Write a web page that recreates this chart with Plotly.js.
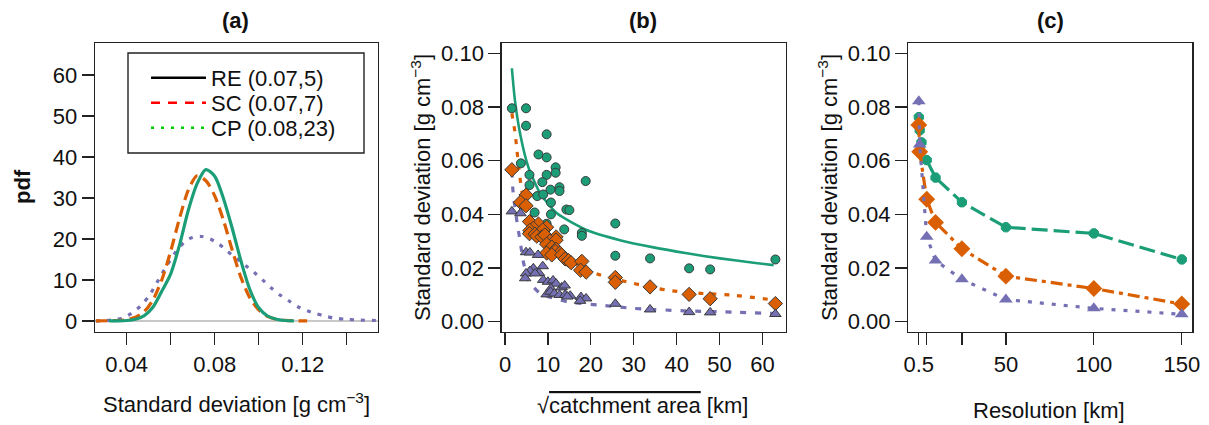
<!DOCTYPE html>
<html>
<head>
<meta charset="utf-8">
<script src="https://cdn.plot.ly/plotly-3.0.1.min.js"></script>
<style>
  html, body { margin: 0; padding: 0; background: #ffffff; }
  #chart { width: 1209px; height: 425px; }
</style>
</head>
<body>
<div id="chart"></div>
<script>
// ---------- Panel (a): pdf curves ----------
const aRE_x = [0.032,0.036,0.040,0.044,0.048,0.052,0.056,0.060,0.064,0.068,0.072,0.076,0.080,0.084,0.088,0.092,0.096,0.100,0.104,0.108,0.112,0.116];
const aRE_y = [0,0.02,0.1,0.4,1.3,3.4,7.3,11.5,18.5,27.0,33.5,36.9,35.3,29.8,22.5,14.5,7.6,3.2,1.2,0.4,0.1,0];
const aSC_x = [0.026,0.032,0.036,0.040,0.044,0.048,0.052,0.056,0.060,0.064,0.068,0.072,0.076,0.080,0.084,0.088,0.092,0.096,0.100,0.104,0.108,0.112,0.116,0.122];
const aSC_y = [0,0.05,0.1,0.3,0.9,2.3,5.2,10.1,17.0,25.0,31.9,35.4,34.2,30.5,24.5,17.2,10.5,5.6,2.7,1.1,0.4,0.15,0.05,0];
const aCP_x = [0.026,0.030,0.034,0.038,0.042,0.046,0.050,0.054,0.058,0.062,0.066,0.070,0.074,0.078,0.082,0.086,0.090,0.094,0.098,0.102,0.106,0.110,0.114,0.118,0.122,0.126,0.130,0.134,0.140,0.146,0.154];
const aCP_y = [0,0.05,0.3,0.7,1.8,3.5,6.0,9.6,13.3,16.6,19.1,20.4,20.6,20.0,18.7,16.9,15.2,13.5,11.8,9.9,7.9,6.2,4.8,3.4,2.5,1.8,1.2,0.7,0.4,0.2,0.1];
const legendNames = ["RE (0.07,5)", "SC (0.07,7)", "CP (0.08,23)"];
const aXlabelled = [0.04,0.08,0.12];
const aXminor = [0.06,0.10,0.14];
const aYticks = [0,10,20,30,40,50,60];

// ---------- Panel (b): sqrt catchment area vs SD ----------
const bRE_x = [1.6,4.9,4.9,9.7,7.8,9.7,3.7,11.8,11.8,5.7,9.7,5.7,18.8,8.7,12.7,10.6,12.7,7.5,8.9,10.7,14.3,15.0,6.9,10.7,9.7,25.7,13.8,17.9,17.9,25.7,33.8,42.9,47.8,63.0];
const bRE_y = [0.0795,0.0795,0.0730,0.0698,0.0623,0.0612,0.0590,0.0575,0.0555,0.0547,0.0547,0.0509,0.0524,0.0520,0.0501,0.0492,0.0487,0.0468,0.0474,0.0444,0.0418,0.0416,0.0407,0.0400,0.0365,0.0366,0.0344,0.0331,0.0320,0.0246,0.0236,0.0199,0.0195,0.0232];
const bSC_x = [1.6,4.9,3.6,4.9,5.7,7.8,6.6,9.7,8.8,5.8,5.7,7.0,7.4,8.6,9.3,11.9,10.5,11.9,9.7,10.9,11.9,11.7,9.7,12.8,10.9,13.2,14.0,14.8,15.4,17.9,17.6,18.9,25.7,25.7,33.8,42.9,47.8,63.0];
const bSC_y = [0.0566,0.0472,0.0445,0.0432,0.0373,0.0364,0.0348,0.0352,0.0342,0.0340,0.0328,0.0326,0.0319,0.0316,0.0323,0.0316,0.0300,0.0304,0.0289,0.0278,0.0270,0.0262,0.0256,0.0256,0.0249,0.0249,0.0234,0.0228,0.0220,0.0225,0.0192,0.0185,0.0165,0.0147,0.0130,0.0102,0.0086,0.0068];
const bCP_x = [1.6,3.6,4.9,5.8,7.7,6.6,5.8,8.8,4.9,4.7,7.9,7.0,8.9,10.0,11.2,11.9,13.2,13.9,10.7,9.7,10.6,11.5,12.7,14.0,15.2,14.5,17.7,18.9,17.5,25.7,33.8,42.9,47.8,63.0];
const bCP_y = [0.0411,0.0404,0.0259,0.0258,0.0249,0.0199,0.0189,0.0207,0.0180,0.0162,0.0182,0.0180,0.0156,0.0149,0.0154,0.0142,0.0128,0.0135,0.0124,0.0102,0.0112,0.0105,0.0100,0.0100,0.0097,0.0094,0.0092,0.0087,0.0078,0.0067,0.0046,0.0036,0.0035,0.0029];
// fitted curves
const bFitRE_x = [1.6,2.3,3.5,5.4,8.2,12.1,19.0,26.8,34.6,42.4,50.1,57.9,62.6];
const bFitRE_y = [0.0944,0.0826,0.0702,0.0578,0.0478,0.0404,0.0342,0.0304,0.0277,0.0255,0.0236,0.0220,0.0211];
const bFitSC_x = [1.6,2.3,2.7,3.1,3.9,5.1,8.2,12.8,17.5,22.2,29.9,37.7,45.5,53.2,62.6];
const bFitSC_y = [0.0776,0.0708,0.0652,0.0590,0.0490,0.0416,0.0329,0.0255,0.0205,0.0174,0.0143,0.0118,0.0106,0.0099,0.0081];
const bFitCP_x = [1.6,1.9,2.9,3.5,4.2,5.4,8.2,14.4,22.2,29.9,41.6,53.2,62.6];
const bFitCP_y = [0.0560,0.0480,0.0360,0.0304,0.0230,0.0155,0.0106,0.0075,0.0062,0.0050,0.0041,0.0036,0.0031];
const bXticks = [0,10,20,30,40,50,60];
const sdTicks = [0,0.02,0.04,0.06,0.08,0.10];
const sdTicktext = ["0.00","0.02","0.04","0.06","0.08","0.10"];

// ---------- Panel (c): resolution vs SD ----------
const cRE_x = [0.5,1,2,5,10,25,50,100,150];
const cRE_y = [0.0762,0.0713,0.0668,0.0602,0.0537,0.0445,0.0352,0.0329,0.0232];
const cSC_x = [0.5,1,5,10,25,50,100,150];
const cSC_y = [0.0733,0.0633,0.0456,0.0370,0.0272,0.0170,0.0124,0.0066];
const cCP_x = [0.5,1,5,10,25,50,100,150];
const cCP_y = [0.0821,0.0660,0.0317,0.0228,0.0158,0.0083,0.0050,0.0028];
const cXlabelled = [0.5,50,100,150];
const cXminor = [5,25];

// ---------- colours ----------
const GREEN = "#1b9e77", ORANGE = "#d95f02", PURPLE = "#7570b3";
const EDGE = "#3a3a3a";
const FONT = "Arial, 'Liberation Sans', sans-serif";
const FS = 22;

const traces = [
  // panel a
  {x: aCP_x, y: aCP_y, xaxis: "x", yaxis: "y", mode: "lines", showlegend: false,
   line: {color: PURPLE, width: 3.2, dash: "4px,7px", shape: "spline", smoothing: 0.8}},
  {x: aSC_x, y: aSC_y, xaxis: "x", yaxis: "y", mode: "lines", showlegend: false,
   line: {color: ORANGE, width: 3.2, dash: "11px,6px", shape: "spline", smoothing: 0.8}},
  {x: aRE_x, y: aRE_y, xaxis: "x", yaxis: "y", mode: "lines", showlegend: false,
   line: {color: GREEN, width: 3.2, shape: "spline", smoothing: 0.8}},
  // legend-only entries (legend colours differ from curves, as in the original)
  {x: [null], y: [null], xaxis: "x", yaxis: "y", mode: "lines", name: legendNames[0], legend: "legend",
   line: {color: "#000000", width: 2.6}},
  {x: [null], y: [null], xaxis: "x", yaxis: "y", mode: "lines", name: legendNames[1], legend: "legend2",
   line: {color: "#ff0000", width: 2.6, dash: "9px,8px"}},
  {x: [null], y: [null], xaxis: "x", yaxis: "y", mode: "lines", name: legendNames[2], legend: "legend3",
   line: {color: "#00cd00", width: 2.6, dash: "3px,7px"}},
  // panel b fits
  {x: bFitCP_x, y: bFitCP_y, xaxis: "x2", yaxis: "y2", mode: "lines", showlegend: false,
   line: {color: PURPLE, width: 3.2, dash: "6px,9px", shape: "spline", smoothing: 0.6}},
  {x: bFitSC_x, y: bFitSC_y, xaxis: "x2", yaxis: "y2", mode: "lines", showlegend: false,
   line: {color: ORANGE, width: 3.2, dash: "5px,8px", shape: "spline", smoothing: 0.6}},
  {x: bFitRE_x, y: bFitRE_y, xaxis: "x2", yaxis: "y2", mode: "lines", showlegend: false,
   line: {color: GREEN, width: 2.6, shape: "spline", smoothing: 0.6}},
  // panel b points
  {x: bRE_x, y: bRE_y, xaxis: "x2", yaxis: "y2", mode: "markers", showlegend: false,
   marker: {symbol: "circle", size: 9, color: GREEN, line: {color: EDGE, width: 1}}},
  {x: bSC_x, y: bSC_y, xaxis: "x2", yaxis: "y2", mode: "markers", showlegend: false,
   marker: {symbol: "diamond", size: 11, color: ORANGE, line: {color: EDGE, width: 1}}},
  {x: bCP_x, y: bCP_y, xaxis: "x2", yaxis: "y2", mode: "markers", showlegend: false,
   marker: {symbol: "triangle-up", size: 10, color: PURPLE, line: {color: EDGE, width: 1}}},
  // panel c
  {x: cRE_x, y: cRE_y, xaxis: "x3", yaxis: "y3", mode: "lines+markers", showlegend: false,
   line: {color: GREEN, width: 3.2, dash: "16px,6px"},
   marker: {symbol: "octagon", size: 10, color: GREEN, line: {color: GREEN, width: 1}}},
  {x: cSC_x, y: cSC_y, xaxis: "x3", yaxis: "y3", mode: "lines+markers", showlegend: false,
   line: {color: ORANGE, width: 3.2, dash: "12px,5px,4px,5px"},
   marker: {symbol: "diamond", size: 13, color: ORANGE}},
  {x: cCP_x, y: cCP_y, xaxis: "x3", yaxis: "y3", mode: "lines+markers", showlegend: false,
   line: {color: PURPLE, width: 3.2, dash: "4px,8px"},
   marker: {symbol: "triangle-up", size: 12, color: PURPLE}}
];

function axisBase(extra) {
  return Object.assign({
    showgrid: false, zeroline: false, showline: true, mirror: true,
    linecolor: "#222222", linewidth: 1.4,
    ticks: "outside", ticklen: 12, tickwidth: 1.3, tickcolor: "#222222",
    tickmode: "array", tickfont: {family: FONT, size: FS, color: "#111111"},
    automargin: false, fixedrange: true
  }, extra);
}
function minorTicks(vals) {
  return {tickmode: "array", tickvals: vals, ticks: "outside", ticklen: 12,
          tickwidth: 1.3, tickcolor: "#222222", showgrid: false};
}

const W = 1209, H = 425;
const px = v => v / W;
const py = v => 1 - v / H;
const yDom = [py(332), py(43)];

function legendAt(rowY) {
  return {
    x: px(146), y: py(rowY), xanchor: "left", yanchor: "middle",
    bgcolor: "rgba(0,0,0,0)", borderwidth: 0,
    font: {family: FONT, size: FS, color: "#111111"},
    itemwidth: 55
  };
}

const layout = {
  width: W, height: H,
  margin: {l: 0, r: 0, t: 0, b: 0},
  paper_bgcolor: "#ffffff", plot_bgcolor: "#ffffff",
  font: {family: FONT, size: FS, color: "#111111"},
  showlegend: true,
  legend: legendAt(78),
  legend2: legendAt(103),
  legend3: legendAt(128),
  xaxis: axisBase({domain: [px(95), px(378)], range: [0.0256, 0.1542], anchor: "y",
    tickvals: aXlabelled, ticktext: aXlabelled.map(v => v.toFixed(2)), minor: minorTicks(aXminor)}),
  yaxis: axisBase({domain: yDom, range: [-2.7, 67.8], anchor: "x",
    tickvals: aYticks, zeroline: true, zerolinecolor: "#c8c8c8", zerolinewidth: 1.2}),
  xaxis2: axisBase({domain: [px(501.7), px(785.7)], range: [-0.77, 65.4], anchor: "y2",
    tickvals: bXticks}),
  yaxis2: axisBase({domain: yDom, range: [-0.0038, 0.1038], anchor: "x2",
    tickvals: sdTicks, ticktext: sdTicktext}),
  xaxis3: axisBase({domain: [px(908.3), px(1192.3)], range: [-5.48, 155.98], anchor: "y3",
    tickvals: cXlabelled, ticktext: cXlabelled.map(String), minor: minorTicks(cXminor)}),
  yaxis3: axisBase({domain: yDom, range: [-0.0038, 0.1038], anchor: "x3",
    tickvals: sdTicks, ticktext: sdTicktext}),
  shapes: [
    {type: "rect", xref: "paper", yref: "paper", x0: px(128), x1: px(364), y0: py(153), y1: py(53),
     line: {color: "#222222", width: 1.4}, fillcolor: "rgba(0,0,0,0)"}
  ],
  annotations: [
    {text: "<b>(a)</b>", x: px(235), y: py(20)},
    {text: "<b>(b)</b>", x: px(643), y: py(20)},
    {text: "<b>(c)</b>", x: px(1050), y: py(20)},
    {text: "Standard deviation [g cm<sup>−3</sup>]", x: px(236), y: py(403)},
    {text: "√<span style=\"text-decoration:overline\">catchment area</span> [km]", x: px(642), y: py(405)},
    {text: "Resolution [km]", x: px(1049), y: py(410)},
    {text: "<b>pdf</b>", x: px(23), y: py(187), textangle: -90},
    {text: "Standard deviation [g cm<sup>−3</sup>]", x: px(421), y: py(188), textangle: -90},
    {text: "Standard deviation [g cm<sup>−3</sup>]", x: px(828), y: py(188), textangle: -90}
  ].map(a => Object.assign({xref: "paper", yref: "paper", showarrow: false,
    xanchor: "center", yanchor: "middle", font: {family: FONT, size: FS, color: "#111111"}}, a))
};

Plotly.newPlot("chart", traces, layout, {staticPlot: true, displayModeBar: false});
</script>
</body>
</html>
